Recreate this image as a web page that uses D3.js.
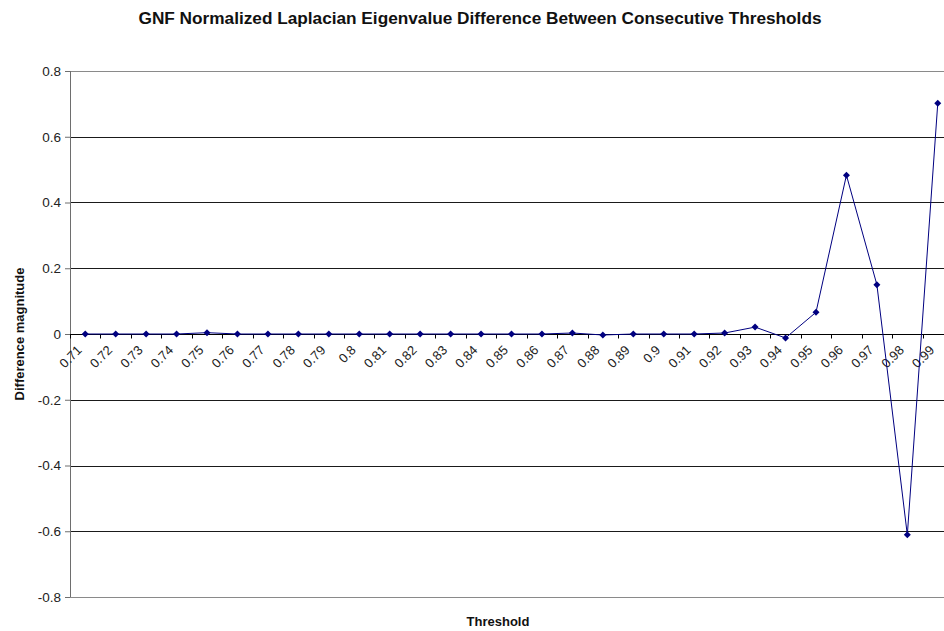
<!DOCTYPE html>
<html>
<head>
<meta charset="utf-8">
<script src="https://cdn.jsdelivr.net/npm/d3@7"></script>
<style>
  body { margin: 0; background: #fff; }
  svg { display: block; font-family: "Liberation Sans", Arial, sans-serif; }
</style>
</head>
<body>
<div id="chart"></div>
<script>
// threshold categories along the x axis
const thresholds = ['0.71','0.72','0.73','0.74','0.75','0.76','0.77','0.78','0.79','0.8',
  '0.81','0.82','0.83','0.84','0.85','0.86','0.87','0.88','0.89','0.9',
  '0.91','0.92','0.93','0.94','0.95','0.96','0.97','0.98','0.99']

// eigenvalue difference
const diffs = [0, 0, 0, 0, 0.004, 0, 0, 0, 0, 0,
  0, 0, 0, 0, 0, 0, 0.003, -0.003, 0, 0,
  0, 0.003, 0.021, -0.012, 0.066, 0.483, 0.15, -0.611, 0.702]

const yTicks = [-0.8, -0.6, -0.4, -0.2, 0, 0.2, 0.4, 0.6, 0.8]

const chartTitle = 'GNF Normalized Laplacian Eigenvalue Difference Between Consecutive Thresholds'
const xTitle = 'Threshold'
const yTitle = 'Difference magnitude'

function draw () {
    const dimensions = {
        width: 944,
        height: 631,
        margin: { left: 70, right: -9, top: 71, bottom: 34 }
    }
    dimensions.ctrWidth = dimensions.width - dimensions.margin.left - dimensions.margin.right
    dimensions.ctrHeight = dimensions.height - dimensions.margin.top - dimensions.margin.bottom

    const dataset = thresholds.map((t, i) => ({ t: t, v: diffs[i] }))

    const xScale = d3.scaleBand()
        .domain(thresholds)
        .range([0, dimensions.ctrWidth])
        .padding(0)
    const yScale = d3.scaleLinear()
        .domain([-0.8, 0.8])
        .range([dimensions.ctrHeight, 0])

    const svg = d3.select('#chart')
        .append('svg')
        .attr('width', dimensions.width)
        .attr('height', dimensions.height)

    svg.append('text')
        .attr('x', 480)
        .attr('y', 24)
        .attr('text-anchor', 'middle')
        .attr('font-weight', 'bold')
        .attr('font-size', 16)
        .attr('textLength', 683)
        .attr('lengthAdjust', 'spacingAndGlyphs')
        .attr('fill', '#111')
        .text(chartTitle)

    const ctr = svg.append('g')
        .attr('transform', `translate(${dimensions.margin.left},${dimensions.margin.top})`)

    // gridlines (top and bottom are the grey plot border)
    ctr.append('g')
        .selectAll('line')
        .data(yTicks)
        .join('line')
        .attr('x1', 0)
        .attr('x2', dimensions.ctrWidth)
        .attr('y1', d => Math.round(yScale(d)) + 0.5)
        .attr('y2', d => Math.round(yScale(d)) + 0.5)
        .attr('stroke', d => Math.abs(d) === 0.8 ? '#8a8a8a' : '#1a1a1a')
        .attr('stroke-width', 1)

    // y axis
    const yAxis = d3.axisLeft(yScale)
        .tickValues(yTicks)
        .tickSize(5)
        .tickPadding(4)
        .tickFormat(d => d === 0 ? '0' : String(+d.toFixed(1)))
    const yAxisGroup = ctr.append('g')
        .call(yAxis)
    yAxisGroup.select('.domain').attr('stroke', '#6e6e6e').attr('d', `M0.5,0V${dimensions.ctrHeight}`)
    yAxisGroup.selectAll('.tick line').attr('stroke', '#6e6e6e')
    yAxisGroup.selectAll('.tick text')
        .attr('font-size', 13.5)
        .attr('font-family', '"Liberation Sans", Arial, sans-serif')
        .attr('fill', '#222')

    // x axis along zero
    const y0 = Math.round(yScale(0)) + 0.5
    const xAxisGroup = ctr.append('g')
    xAxisGroup.append('line')
        .attr('x1', 0)
        .attr('x2', dimensions.ctrWidth)
        .attr('y1', y0)
        .attr('y2', y0)
        .attr('stroke', '#000')
    xAxisGroup.selectAll('line.tick')
        .data(thresholds.concat(['end']))
        .join('line')
        .attr('class', 'tick')
        .attr('x1', (d, i) => Math.round(i * xScale.bandwidth()) + 0.5)
        .attr('x2', (d, i) => Math.round(i * xScale.bandwidth()) + 0.5)
        .attr('y1', y0)
        .attr('y2', y0 + 4)
        .attr('stroke', '#000')
    xAxisGroup.selectAll('text')
        .data(thresholds)
        .join('text')
        .attr('transform', d => `translate(${xScale(d) + xScale.bandwidth() / 2 - 9},${y0 + 10}) rotate(-45)`)
        .attr('text-anchor', 'end')
        .attr('dy', '0.7em')
        .attr('font-size', 13)
        .attr('fill', '#222')
        .text(d => d)

    // line + diamond markers
    const line = d3.line()
        .x(d => xScale(d.t) + xScale.bandwidth() / 2)
        .y(d => yScale(d.v))
    ctr.append('path')
        .datum(dataset)
        .attr('d', line)
        .attr('fill', 'none')
        .attr('stroke', '#000080')
        .attr('stroke-width', 1)

    ctr.append('g')
        .selectAll('path')
        .data(dataset)
        .join('path')
        .attr('d', 'M0,-3.5L3.5,0L0,3.5L-3.5,0Z')
        .attr('transform', d => `translate(${xScale(d.t) + xScale.bandwidth() / 2},${yScale(d.v)})`)
        .attr('fill', '#000080')

    // axis titles
    svg.append('text')
        .attr('x', 498)
        .attr('y', 626)
        .attr('text-anchor', 'middle')
        .attr('font-weight', 'bold')
        .attr('font-size', 13)
        .attr('fill', '#111')
        .text(xTitle)

    svg.append('text')
        .attr('transform', `translate(24,${dimensions.margin.top + dimensions.ctrHeight / 2}) rotate(-90)`)
        .attr('text-anchor', 'middle')
        .attr('font-weight', 'bold')
        .attr('font-size', 13)
        .attr('fill', '#111')
        .text(yTitle)
}

draw()
</script>
</body>
</html>
